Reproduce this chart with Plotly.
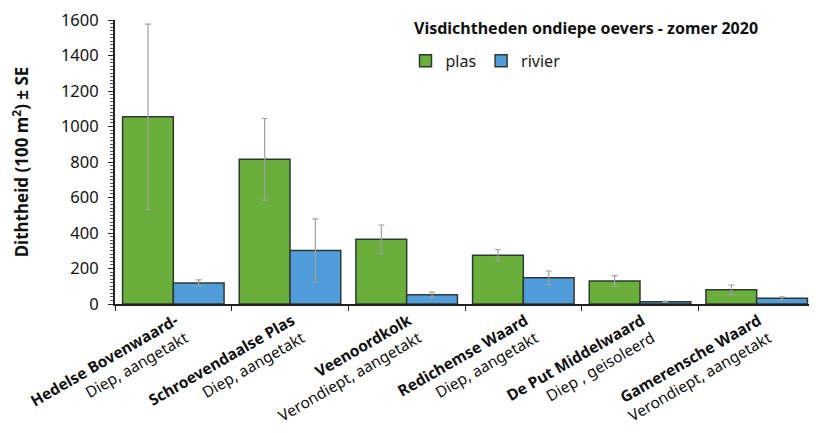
import plotly.graph_objects as go

categories = [
    "<b>Hedelse Bovenwaard-</b><br>Diep, aangetakt",
    "<b>Schroevendaalse Plas</b><br>Diep, aangetakt",
    "<b>Veenoordkolk</b><br>Verondiept, aangetakt",
    "<b>Redichemse Waard</b><br>Diep, aangetakt",
    "<b>De Put Middelwaard</b><br>Diep , geisoleerd",
    "<b>Gamerensche Waard</b><br>Verondiept, aangetakt",
]
plas = [1055, 815, 365, 275, 130, 80]
plas_se = [522, 230, 80, 32, 30, 27]
rivier = [118, 302, 52, 148, 13, 32]
rivier_se = [18, 178, 15, 38, 3, 8]

FONT = "Noto Sans"
GREEN = "#6aaf3c"
BLUE = "#519ddc"
EDGE = "#2e3a30"
ERR = "#a0a0a0"

fig = go.Figure()
fig.add_trace(go.Bar(
    name="plas", x=categories, y=plas,
    marker=dict(color=GREEN, line=dict(color=EDGE, width=1.5)),
    error_y=dict(type="data", array=plas_se, color=ERR, thickness=1.2, width=3),
))
fig.add_trace(go.Bar(
    name="rivier", x=categories, y=rivier,
    marker=dict(color=BLUE, line=dict(color=EDGE, width=1.5)),
    error_y=dict(type="data", array=rivier_se, color=ERR, thickness=1.2, width=3),
))

# page body has an 8px default margin, so the figure is sized to fit the rest
fig.update_layout(
    width=809, height=425,
    margin=dict(l=107, r=2, t=12, b=129, autoexpand=False),
    paper_bgcolor="white", plot_bgcolor="white",
    barmode="group", bargap=0.13, bargroupgap=0,
    font=dict(family=FONT, color="#1a1a1a"),
    showlegend=True,
    legend=dict(orientation="h", x=0.415, y=0.856, xanchor="left", yanchor="middle",
                font=dict(size=16, family=FONT), bgcolor="rgba(0,0,0,0)",
                itemwidth=30, tracegroupgap=0),
    annotations=[dict(text="<b>Visdichtheden ondiepe oevers - zomer 2020</b>",
                      xref="paper", yref="paper", x=0.424, y=0.972, xanchor="left",
                      yanchor="middle", showarrow=False,
                      font=dict(size=16, family=FONT, color="#111"))],
)
fig.update_xaxes(
    automargin=False,
    showline=True, linecolor="#222", linewidth=2,
    tickson="boundaries", ticks="outside", ticklen=5, tickcolor="#222",
    tickangle=-30, tickfont=dict(size=15.5, family=FONT, color="#111"),
    ticklabelshift=2, ticklabeloverflow="allow",
    showgrid=False, zeroline=False,
)
fig.update_yaxes(
    automargin=False,
    range=[0, 1600], dtick=200,
    showline=True, linecolor="#222", linewidth=2,
    ticks="outside", ticklen=5, tickcolor="#222",
    minor=dict(dtick=20, ticks="outside", ticklen=3, tickcolor="#555"),
    tickfont=dict(size=16.5, family=FONT, color="#111"),
    ticklabelstandoff=6, ticklabeloverflow="allow",
    showgrid=False, zeroline=False,
    title=dict(text="<b>Diththeid (100 m<sup>2</sup>) ± SE</b>",
               font=dict(size=17, family=FONT, color="#111"), standoff=31),
)

fig.write_html("out.html")
